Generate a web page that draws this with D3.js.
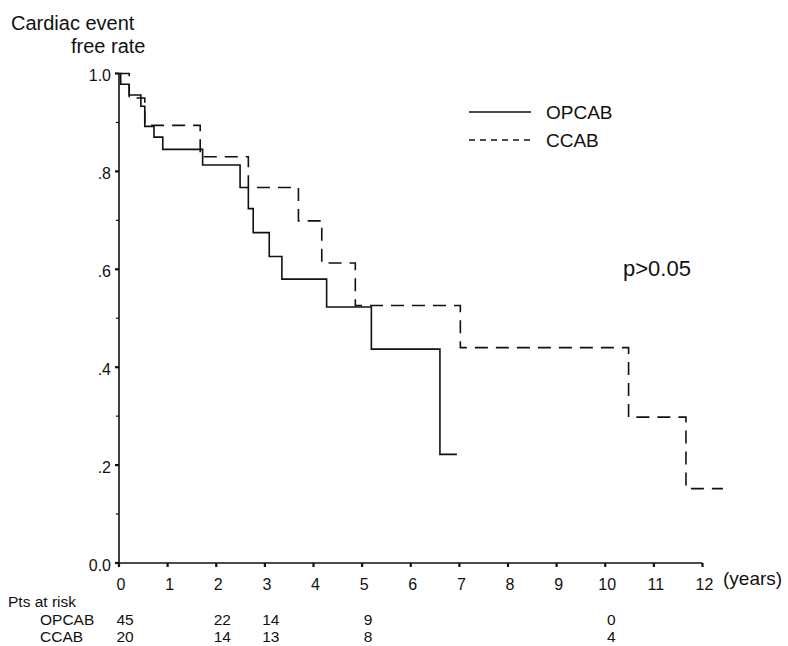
<!DOCTYPE html>
<html><head><meta charset="utf-8">
<script src="https://cdn.jsdelivr.net/npm/d3@7"></script>
<style>
html,body{margin:0;padding:0;background:#fff;}
svg{display:block;}
text{font-family:"Liberation Sans",Arial,sans-serif;fill:#111;}
</style></head>
<body>
<svg id="chart" width="788" height="646"></svg>
<script>
// ---- data ----
const opcabTimes = [0, 0.035, 0.21, 0.45, 0.53, 0.72, 0.90, 1.72, 2.49, 2.66, 2.76, 3.09, 3.35, 4.27, 5.19, 6.60, 6.95];
const opcabSurv  = [1.0, 0.978, 0.956, 0.933, 0.892, 0.870, 0.845, 0.813, 0.767, 0.724, 0.675, 0.626, 0.580, 0.523, 0.437, 0.222, 0.222];
const ccabTimes  = [0, 0.21, 0.53, 1.67, 2.66, 3.69, 4.17, 4.86, 7.02, 10.48, 11.66, 12.42];
const ccabSurv   = [1.0, 0.95, 0.894, 0.830, 0.767, 0.699, 0.613, 0.526, 0.440, 0.298, 0.152, 0.152];
const xTicks = [0,1,2,3,4,5,6,7,8,9,10,11,12];
const yMajor = [0, 0.2, 0.4, 0.6, 0.8, 1.0];
const yMinor = [0.1, 0.3, 0.5, 0.7, 0.9];
const yLabels = ["0.0", ".2", ".4", ".6", ".8", "1.0"];
const riskTimes = [0, 2, 3, 5, 10];
const riskOpcab = [45, 22, 14, 9, 0];
const riskCcab  = [20, 14, 13, 8, 4];
const seriesNames = ["OPCAB", "CCAB"];

const svg = d3.select("#chart");
const x = d3.scaleLinear().domain([0, 12]).range([119, 702.5]);
const y = d3.scaleLinear().domain([0, 1]).range([563, 73.5]);

// axes
svg.append("line").attr("x1", x(0)).attr("x2", x(0)).attr("y1", y(1)).attr("y2", y(0))
  .attr("stroke", "#111").attr("stroke-width", 1.6);
svg.append("line").attr("x1", x(0)).attr("x2", x(12)).attr("y1", y(0)).attr("y2", y(0))
  .attr("stroke", "#111").attr("stroke-width", 1.6);

svg.selectAll(".ymaj").data(yMajor).enter().append("line")
  .attr("x1", x(0) - 4).attr("x2", x(0)).attr("y1", d => y(d)).attr("y2", d => y(d))
  .attr("stroke", "#111").attr("stroke-width", 2.2);
svg.selectAll(".ymin").data(yMinor).enter().append("line")
  .attr("x1", x(0) - 3).attr("x2", x(0)).attr("y1", d => y(d)).attr("y2", d => y(d))
  .attr("stroke", "#111").attr("stroke-width", 1.2);
svg.selectAll(".ylab").data(yMajor).enter().append("text")
  .attr("x", x(0) - 8).attr("y", d => y(d) + 7.5).attr("text-anchor", "end")
  .attr("font-size", 16).text((d, i) => yLabels[i]);

svg.selectAll(".xt").data(xTicks).enter().append("line")
  .attr("x1", d => x(d)).attr("x2", d => x(d)).attr("y1", y(0)).attr("y2", y(0) + 4)
  .attr("stroke", "#111").attr("stroke-width", 2.2);
svg.selectAll(".xlab").data(xTicks).enter().append("text")
  .attr("x", d => x(d) + 2).attr("y", 590).attr("text-anchor", "middle")
  .attr("font-size", 16).text(d => d);
svg.append("text").attr("x", 723).attr("y", 585).attr("font-size", 19).text("(years)");

// titles
svg.append("text").attr("x", 11).attr("y", 30).attr("font-size", 20).text("Cardiac event");
svg.append("text").attr("x", 71).attr("y", 53).attr("font-size", 20).text("free rate");

// curves
function stepLine(times, surv) {
  const pts = times.map((t, i) => [t, surv[i]]);
  return d3.line().x(d => x(d[0])).y(d => y(d[1])).curve(d3.curveStepAfter)(pts);
}
svg.append("path").attr("d", stepLine(ccabTimes, ccabSurv))
  .attr("fill", "none").attr("stroke", "#111").attr("stroke-width", 1.6)
  .attr("stroke-dasharray", "13,8");
svg.append("path").attr("d", stepLine(opcabTimes, opcabSurv))
  .attr("fill", "none").attr("stroke", "#111").attr("stroke-width", 1.6);

// legend
svg.append("line").attr("x1", 469).attr("x2", 531).attr("y1", 112).attr("y2", 112)
  .attr("stroke", "#111").attr("stroke-width", 1.3);
svg.append("line").attr("x1", 469).attr("x2", 531).attr("y1", 140).attr("y2", 140)
  .attr("stroke", "#111").attr("stroke-width", 1.3).attr("stroke-dasharray", "6,5");
svg.append("text").attr("x", 546).attr("y", 119).attr("font-size", 19).text(seriesNames[0]);
svg.append("text").attr("x", 546).attr("y", 147).attr("font-size", 19).text(seriesNames[1]);

svg.append("text").attr("x", 623).attr("y", 276).attr("font-size", 22).text("p>0.05");

// risk table
const rowY = [607, 624.5, 642];
svg.append("text").attr("x", 8).attr("y", rowY[0]).attr("font-size", 15.5).text("Pts at risk");
svg.append("text").attr("x", 40).attr("y", rowY[1]).attr("font-size", 15.5).text(seriesNames[0]);
svg.append("text").attr("x", 40).attr("y", rowY[2]).attr("font-size", 15.5).text(seriesNames[1]);
svg.selectAll(".ro").data(riskTimes).enter().append("text")
  .attr("x", d => x(d) + 6).attr("y", rowY[1]).attr("text-anchor", "middle").attr("font-size", 15.5)
  .text((d, i) => riskOpcab[i]);
svg.selectAll(".rc").data(riskTimes).enter().append("text")
  .attr("x", d => x(d) + 6).attr("y", rowY[2]).attr("text-anchor", "middle").attr("font-size", 15.5)
  .text((d, i) => riskCcab[i]);
</script>
</body></html>
